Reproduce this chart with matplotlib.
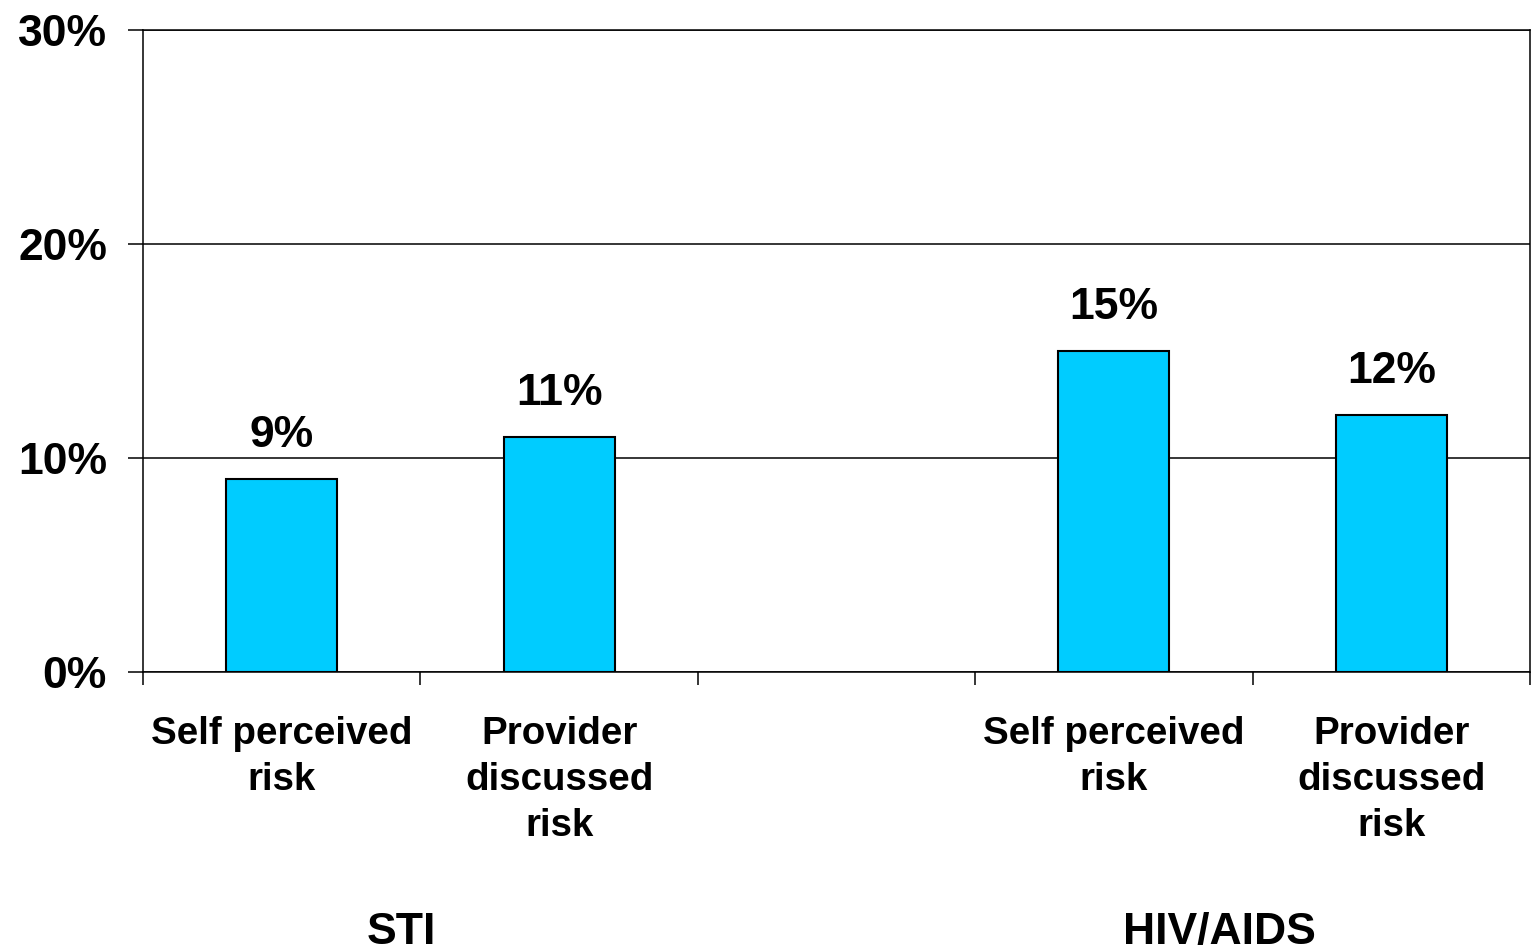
import matplotlib
matplotlib.use("Agg")
import matplotlib.pyplot as plt
from matplotlib.ticker import FixedLocator, NullFormatter, FuncFormatter

plt.rcParams['font.family'] = ['Liberation Sans', 'DejaVu Sans']
plt.rcParams['font.weight'] = 'bold'

# Data
categories = ["Self perceived\nrisk", "Provider\ndiscussed\nrisk", "",
              "Self perceived\nrisk", "Provider\ndiscussed\nrisk"]
values = [9, 11, None, 15, 12]
value_labels = ["9%", "11%", "", "15%", "12%"]
groups = ["STI", "HIV/AIDS"]
group_pos = [0.43, 3.38]
yticks = [0, 10, 20, 30]

bar_color = "#00CCFF"

fig = plt.figure(figsize=(15.32, 9.5), dpi=100)
ax = fig.add_axes([143/1532, 1 - 672/950, (1530-143)/1532, (672-30)/950])

for i, (v, lab) in enumerate(zip(values, value_labels)):
    if v is None:
        continue
    ax.bar(i, v, width=0.4, color=bar_color, edgecolor='black', linewidth=1.5, zorder=3)
    ax.annotate(lab, (i, v), xytext=(0, 23), textcoords='offset points',
                ha='center', va='baseline', fontsize=32, fontweight='bold')

ax.set_xlim(-0.5, 4.5)
ax.set_ylim(0, 30)

ax.set_yticks(yticks)
ax.yaxis.set_major_formatter(FuncFormatter(lambda v, p: f"{int(v)}%"))
ax.tick_params(axis='y', length=11, width=1.1, pad=15, labelsize=32, direction='out')
for t in ax.get_yticklabels():
    t.set_fontweight('bold')

ax.yaxis.grid(True, color='black', linewidth=1.1, zorder=0)
ax.set_axisbelow(True)

boundaries = [i - 0.5 for i in range(len(categories) + 1)]
ax.xaxis.set_major_locator(FixedLocator(boundaries))
ax.xaxis.set_major_formatter(NullFormatter())
ax.xaxis.set_minor_locator(FixedLocator(list(range(len(categories)))))
ax.set_xticklabels(categories, minor=True)
ax.tick_params(axis='x', which='major', length=9.5, width=1.1, direction='out')
ax.tick_params(axis='x', which='minor', length=0, pad=32, labelsize=27.7)
for t in ax.get_xticklabels(minor=True):
    t.set_fontweight('bold')
    t.set_linespacing(1.35)

for s in ax.spines.values():
    s.set_linewidth(1.1)
    s.set_color('black')

for g, gx in zip(groups, group_pos):
    fx = (143 + (gx + 0.5) * (1387/5)) / 1532
    fig.text(fx, 1 - 944/950, g, ha='center', va='baseline', fontsize=32, fontweight='bold')

fig.savefig("out.png", dpi=100)
